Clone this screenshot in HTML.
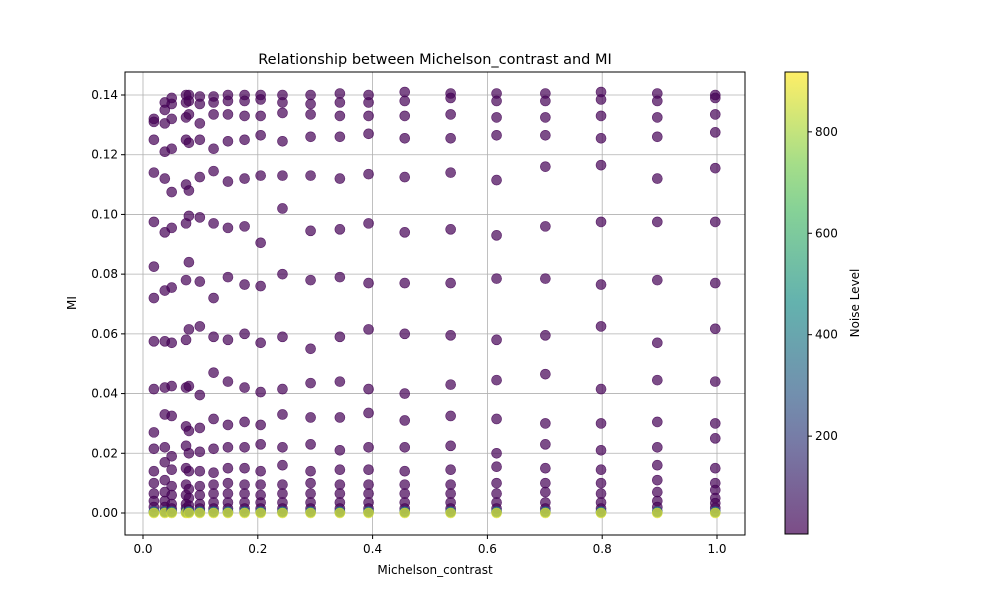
<!DOCTYPE html>
<html><head><meta charset="utf-8"><style>
body{margin:0;background:#fff;font-family:"Liberation Sans","DejaVu Sans",sans-serif}
svg text{font-family:"DejaVu Sans","Liberation Sans",sans-serif;fill:#000}
</style></head><body>
<svg id="chart" width="1000" height="600"></svg>
<script>
const contrast=[0.019,0.038,0.05,0.075,0.08,0.099,0.123,0.148,0.177,0.205,0.243,0.292,0.343,0.393,0.456,0.536,0.616,0.701,0.798,0.896,0.997];
const miCols=[
[0.132,0.131,0.125,0.114,0.0975,0.0825,0.072,0.0575,0.0415,0.027,0.0215,0.014,0.010,0.0065,0.004,0.002],
[0.1375,0.135,0.1305,0.121,0.112,0.094,0.0745,0.0575,0.042,0.033,0.022,0.017,0.011,0.007,0.004,0.002],
[0.139,0.137,0.132,0.122,0.1075,0.0955,0.0755,0.057,0.0425,0.0325,0.019,0.0145,0.009,0.006,0.003,0.0015],
[0.140,0.1375,0.1325,0.125,0.110,0.097,0.078,0.058,0.042,0.029,0.0225,0.015,0.0095,0.006,0.003,0.0015],
[0.140,0.138,0.1335,0.124,0.108,0.0995,0.084,0.0615,0.0425,0.0275,0.020,0.014,0.008,0.005,0.0025,0.001],
[0.1395,0.137,0.1305,0.125,0.1125,0.099,0.0775,0.0625,0.0395,0.0285,0.0205,0.014,0.009,0.006,0.003,0.0015],
[0.1395,0.1375,0.1335,0.122,0.1145,0.097,0.072,0.059,0.047,0.0315,0.0215,0.0135,0.0095,0.0065,0.0035,0.0015],
[0.140,0.138,0.1335,0.1245,0.111,0.0955,0.079,0.058,0.044,0.0295,0.022,0.015,0.010,0.0065,0.0035,0.0015],
[0.140,0.138,0.133,0.125,0.112,0.096,0.0765,0.060,0.042,0.0305,0.022,0.015,0.0095,0.0065,0.0035,0.0015],
[0.140,0.1385,0.133,0.1265,0.113,0.0905,0.076,0.057,0.0405,0.0295,0.023,0.014,0.0095,0.006,0.0035,0.0015],
[0.140,0.1375,0.134,0.1245,0.113,0.102,0.080,0.059,0.0415,0.033,0.022,0.016,0.0095,0.0065,0.0035,0.0015],
[0.140,0.137,0.1335,0.126,0.113,0.0945,0.078,0.055,0.0435,0.032,0.023,0.014,0.010,0.0065,0.0035,0.0015],
[0.1405,0.1375,0.133,0.126,0.112,0.095,0.079,0.059,0.044,0.032,0.021,0.0145,0.0095,0.0065,0.0035,0.0015],
[0.140,0.1375,0.133,0.127,0.1135,0.097,0.077,0.0615,0.0415,0.0335,0.022,0.0145,0.0095,0.0065,0.0035,0.0015],
[0.141,0.138,0.133,0.1255,0.1125,0.094,0.077,0.060,0.040,0.031,0.022,0.014,0.0095,0.0065,0.0035,0.0015],
[0.1405,0.139,0.1335,0.1255,0.114,0.095,0.077,0.0595,0.043,0.0325,0.0225,0.0145,0.0095,0.0065,0.0035,0.0015],
[0.1405,0.138,0.1325,0.1265,0.1115,0.093,0.0785,0.058,0.0445,0.0315,0.020,0.0155,0.010,0.0065,0.0035,0.0015],
[0.1405,0.138,0.1325,0.1265,0.116,0.096,0.0785,0.0595,0.0465,0.030,0.023,0.015,0.010,0.007,0.0035,0.0015],
[0.141,0.1385,0.133,0.1255,0.1165,0.0975,0.0765,0.0625,0.0415,0.030,0.021,0.0145,0.010,0.0065,0.0035,0.0015],
[0.1405,0.138,0.1325,0.126,0.112,0.0975,0.078,0.057,0.0445,0.0305,0.022,0.016,0.011,0.007,0.004,0.002],
[0.140,0.139,0.1335,0.1275,0.1155,0.0975,0.077,0.0617,0.044,0.030,0.025,0.015,0.010,0.0077,0.005,0.0033,0.0017]
];
const lowNoise=10;
const midMI=[0.0006,0.0003];
const midNoise=[150,400];
const highMI=0.0;
const highNoise=880;
const xTicks=[0.0,0.2,0.4,0.6,0.8,1.0];
const yTicks=[0.00,0.02,0.04,0.06,0.08,0.10,0.12,0.14];
const cTicks=[200,400,600,800];

const NS="http://www.w3.org/2000/svg";
const svg=document.getElementById('chart');
const L=125,R=745,T=72,B=535;
const sx=v=>143+(v-0)*(717-143)/1.0;
const sy=v=>513-v*(513-95)/0.14;
const cmin=7,cmax=918;
const cy=v=>534-(v-cmin)/(cmax-cmin)*(534-72);
function mk(tag,attrs,parent){const e=document.createElementNS(NS,tag);for(const k in attrs)e.setAttribute(k,attrs[k]);(parent||svg).appendChild(e);return e;}
const stops=[[0,[68,1,84]],[0.25,[59,82,139]],[0.5,[33,145,140]],[0.75,[94,201,98]],[1,[253,231,37]]];
function viridis(t){t=Math.max(0,Math.min(1,t));for(let i=1;i<stops.length;i++){if(t<=stops[i][0]){const a=stops[i-1],b=stops[i];const f=(t-a[0])/(b[0]-a[0]);const c=a[1].map((v,j)=>Math.round(v+(b[1][j]-v)*f));return `rgb(${c})`;}}return 'rgb(253,231,37)';}
const col=n=>viridis((n-cmin)/(cmax-cmin));

mk('text',{x:435,y:64,'text-anchor':'middle','font-size':14.5},svg).textContent='Relationship between Michelson_contrast and MI';
const grid=mk('g',{});


xTicks.forEach(t=>{mk('line',{x1:sx(t),x2:sx(t),y1:T,y2:B,stroke:'#b0b0b0','stroke-width':0.8},grid);});
yTicks.forEach(t=>{mk('line',{x1:L,x2:R,y1:sy(t),y2:sy(t),stroke:'#b0b0b0','stroke-width':0.8},grid);});
const pts=mk('g',{});


function dot(x,y,n){const c=mk('circle',{cx:sx(x),cy:sy(y),r:5,fill:col(n),'fill-opacity':0.7,stroke:col(n),'stroke-opacity':0.8,'stroke-width':0.6},pts);}
contrast.forEach((x,i)=>{
  miCols[i].forEach(m=>dot(x,m,lowNoise));
  midMI.forEach((m,k)=>dot(x,m,midNoise[k]));
  dot(x,highMI,highNoise);
});
mk('rect',{x:L,y:T,width:R-L,height:B-T,fill:'none',stroke:'#000','stroke-width':1});
const xa=mk('g',{});
xTicks.forEach(t=>{mk('line',{x1:sx(t),x2:sx(t),y1:B,y2:B+4,stroke:'#000'},xa);mk('text',{x:sx(t),y:B+18,'text-anchor':'middle','font-size':12},xa).textContent=t.toFixed(1);});
const ya=mk('g',{});
yTicks.forEach(t=>{mk('line',{x1:L-4,x2:L,y1:sy(t),y2:sy(t),stroke:'#000'},ya);mk('text',{x:L-7,y:sy(t)+4,'text-anchor':'end','font-size':12},ya).textContent=t.toFixed(2);});
const xt=mk('text',{x:435,y:574,'text-anchor':'middle','font-size':12});xt.textContent='Michelson_contrast';

const yt=mk('text',{x:0,y:0,'text-anchor':'middle','font-size':12,transform:'translate(76,303) rotate(-90)'});yt.textContent='MI';

const cb=mk('g',{});
const defs=mk('defs',{});const lg=mk('linearGradient',{id:'vg',x1:0,y1:1,x2:0,y2:0},defs);
for(let i=0;i<=10;i++)mk('stop',{offset:i/10,'stop-color':viridis(i/10),'stop-opacity':0.7},lg);
mk('rect',{x:785,y:72,width:23,height:462,fill:'url(#vg)',stroke:'#000','stroke-width':1},cb);
cTicks.forEach(t=>{mk('line',{x1:808,x2:812,y1:cy(t),y2:cy(t),stroke:'#000'},cb);mk('text',{x:815,y:cy(t)+4,'font-size':12},cb).textContent=t;});
const cl=mk('text',{x:0,y:0,'text-anchor':'middle','font-size':12,transform:'translate(859,303) rotate(-90)'},cb);cl.textContent='Noise Level';
</script>
</body></html>
